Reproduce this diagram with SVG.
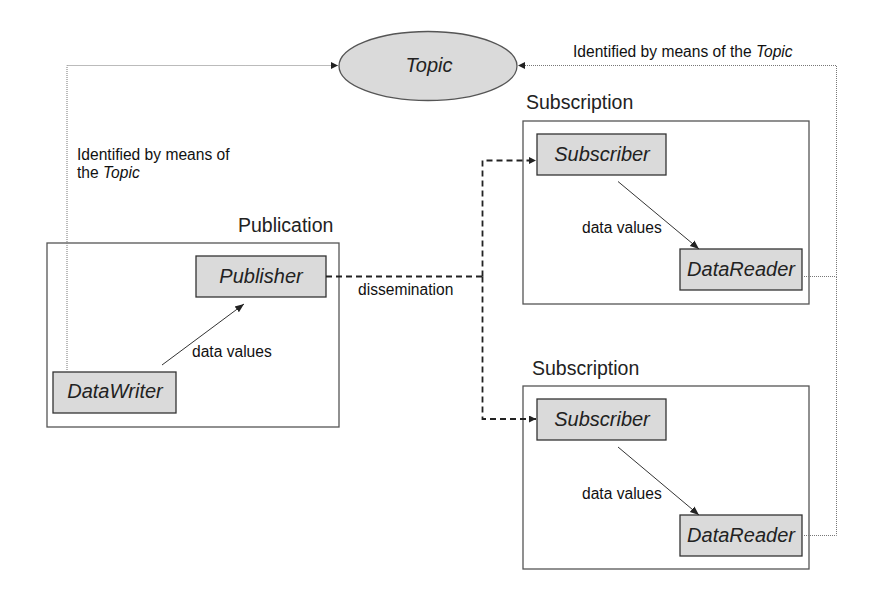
<svg xmlns="http://www.w3.org/2000/svg" width="888" height="606" viewBox="0 0 888 606">
<style>
.frame{fill:#fff;stroke:#555;stroke-width:1.3}
.box{fill:#dadada;stroke:#333;stroke-width:1.3}
.nm{font-family:"Liberation Sans",Arial,sans-serif;font-size:20px;font-style:italic;fill:#222}
.lbl{font-family:"Liberation Sans",Arial,sans-serif;font-size:19.5px;fill:#222}
.sm{font-family:"Liberation Sans",Arial,sans-serif;font-size:15.6px;fill:#111}
.dot{fill:none;stroke:#777;stroke-width:1;stroke-dasharray:1 1}
.dash{fill:none;stroke:#222;stroke-width:1.8;stroke-dasharray:6 4}
.solid{fill:none;stroke:#333;stroke-width:1}
</style>
<defs>
<marker id="ah" viewBox="0 0 10 10" refX="10" refY="5" markerWidth="7" markerHeight="7" markerUnits="userSpaceOnUse" orient="auto">
<path d="M0,0 L10,5 L0,10 z" fill="#222"/>
</marker>
<marker id="ahs" viewBox="0 0 10 10" refX="10" refY="5" markerWidth="9" markerHeight="9" markerUnits="userSpaceOnUse" orient="auto">
<path d="M0,1 L10,5 L0,9 z" fill="#222"/>
</marker>
</defs>
<rect width="888" height="606" fill="#fff"/>

<g id="publication">
<rect class="frame" x="47" y="243" width="292" height="184"/>
<text class="lbl" x="238" y="232">Publication</text>
</g>
<g id="subscription1">
<rect class="frame" x="523" y="121" width="286" height="183"/>
<text class="lbl" x="526" y="109">Subscription</text>
</g>
<g id="subscription2">
<rect class="frame" x="523" y="386" width="286" height="183"/>
<text class="lbl" x="532" y="375">Subscription</text>
</g>

<g id="topic">
<ellipse cx="428" cy="66" rx="89" ry="34.5" fill="#dadada" stroke="#555" stroke-width="1.3"/>
<text class="nm" x="429" y="72" text-anchor="middle">Topic</text>
</g>
<g id="publisher">
<rect class="box" x="196" y="256" width="130" height="41"/>
<text class="nm" x="261" y="283" text-anchor="middle">Publisher</text>
</g>
<g id="datawriter">
<rect class="box" x="53" y="372" width="123" height="41"/>
<text class="nm" x="115" y="398" text-anchor="middle">DataWriter</text>
</g>
<g id="subscriber1">
<rect class="box" x="537" y="134" width="129" height="41"/>
<text class="nm" x="602" y="161" text-anchor="middle">Subscriber</text>
</g>
<g id="datareader1">
<rect class="box" x="680" y="249" width="122" height="41"/>
<text class="nm" x="741" y="276" text-anchor="middle">DataReader</text>
</g>
<g id="subscriber2">
<rect class="box" x="537" y="399" width="129" height="41"/>
<text class="nm" x="602" y="426" text-anchor="middle">Subscriber</text>
</g>
<g id="datareader2">
<rect class="box" x="680" y="515" width="122" height="41"/>
<text class="nm" x="741" y="542" text-anchor="middle">DataReader</text>
</g>

<g id="connectors">
<path class="dot" d="M67,372 V65.5 H338" marker-end="url(#ah)"/>
<path class="dot" d="M802,276.5 H836.5 V65.5 H518" marker-end="url(#ah)"/>
<path class="dot" d="M802,535.5 H836.5 V276.5"/>
<path class="dash" d="M326,276.5 H482.5"/>
<path class="dash" d="M482.5,276.5 V160.5 H536" marker-end="url(#ah)"/>
<path class="dash" d="M482.5,276.5 V419 H536" marker-end="url(#ah)"/>
<path class="solid" d="M162,365 L244,304" marker-end="url(#ahs)"/>
<path class="solid" d="M618,181.5 L699,249" marker-end="url(#ahs)"/>
<path class="solid" d="M618,447 L699,515" marker-end="url(#ahs)"/>
<text class="sm" x="77" y="160">Identified by means of</text>
<text class="sm" x="77" y="178">the <tspan font-style="italic">Topic</tspan></text>
<text class="sm" x="573" y="57">Identified by means of the <tspan font-style="italic">Topic</tspan></text>
<text class="sm" x="358" y="295">dissemination</text>
<text class="sm" x="192" y="357">data values</text>
<text class="sm" x="582" y="233">data values</text>
<text class="sm" x="582" y="499">data values</text>
</g>
</svg>
